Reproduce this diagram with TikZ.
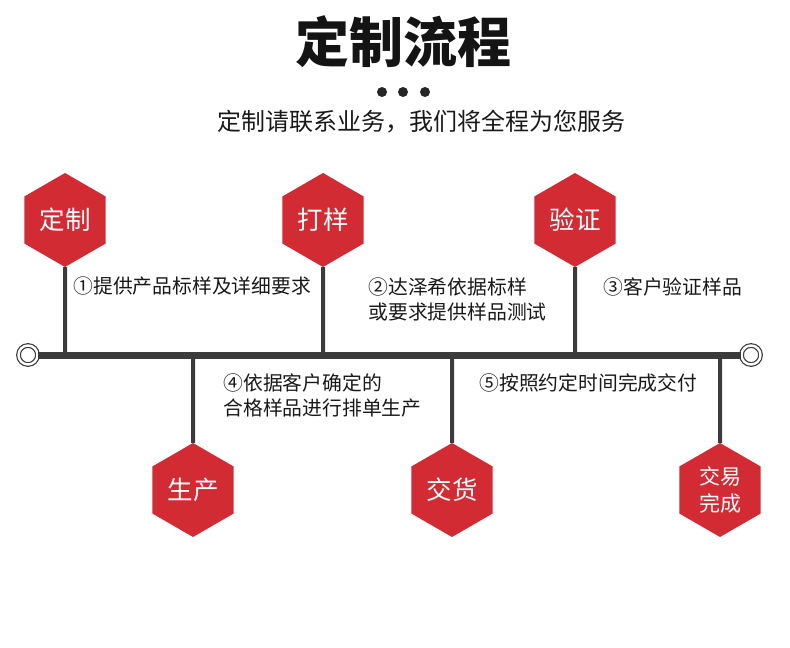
\documentclass[tikz,border=0pt]{standalone}
\usepackage{fontspec}
\setmainfont{Noto Sans CJK SC}
\usetikzlibrary{positioning}
\usetikzlibrary{shapes.geometric}
\pgfdeclarelayer{nodelayer}
\pgfdeclarelayer{edgelayer}
\pgfsetlayers{nodelayer,edgelayer,main}
\definecolor{hexred}{HTML}{D22B34}
\definecolor{linegray}{HTML}{3B3B3B}

\begin{document}
\begin{tikzpicture}[x=1pt, y=-1pt,
        hexnode/.style={regular polygon, regular polygon sides=6, regular polygon rotate=30, fill=hexred, text=white, inner sep=0pt, minimum size=94pt, font=\fontsize{25.5}{27}\selectfont},
        stepnote/.style={anchor=west, align=left, text=black!90, font=\fontsize{19.8}{25}\selectfont},
        endring/.style={circle, draw=linegray, double=white, double distance=2.4pt, line width=1.2pt, minimum size=19pt, inner sep=0pt, fill=white},
        dotnode/.style={circle, fill=black!85, inner sep=0pt, minimum size=10pt}]
        \useasboundingbox (0,0) rectangle (790,648);
        \begin{pgfonlayer}{nodelayer}
            \node [font=\bfseries\fontsize{54}{58}\selectfont, text=black!92] (title) at (403, 42) {定制流程};
            \node [dotnode] (d1) at (382, 92) {};
            \node [dotnode] (d2) at (403, 92) {};
            \node [dotnode] (d3) at (425, 92) {};
            \node [font=\fontsize{24}{26}\selectfont, text=black!90] (sub) at (421, 122) {定制请联系业务，我们将全程为您服务};
            \node [hexnode] (dz) at (65, 220) {定制};
            \node [hexnode] (dy) at (323, 220) {打样};
            \node [hexnode] (yz) at (575, 220) {验证};
            \node [hexnode] (sc) at (193, 490) {生产};
            \node [hexnode] (jh) at (452, 490) {交货};
            \node [hexnode, align=center, font=\fontsize{21}{27}\selectfont] (wc) at (720, 490) {交易\\完成};
            \node [endring] (el) at (28, 355) {};
            \node [endring] (er) at (751, 355) {};
            \node [stepnote] (n1) at (70, 286) {①提供产品标样及详细要求};
            \node [stepnote] (n2) at (365, 299.5) {②达泽希依据标样\\或要求提供样品测试};
            \node [stepnote] (n3) at (600, 287) {③客户验证样品};
            \node [stepnote] (n4) at (220, 395) {④依据客户确定的\\合格样品进行排单生产};
            \node [stepnote] (n5) at (476, 383) {⑤按照约定时间完成交付};
        \end{pgfonlayer}
        \begin{pgfonlayer}{edgelayer}
            \draw [line width=7pt, linegray] (el) to (er);
            \draw [line width=4pt, linegray] (dz) to (dz |- el);
            \draw [line width=4pt, linegray] (dy) to (dy |- el);
            \draw [line width=4pt, linegray] (yz) to (yz |- el);
            \draw [line width=4pt, linegray] (sc) to (sc |- el);
            \draw [line width=4pt, linegray] (jh) to (jh |- el);
            \draw [line width=4pt, linegray] (wc) to (wc |- el);
        \end{pgfonlayer}
    \end{tikzpicture}
\end{document}
